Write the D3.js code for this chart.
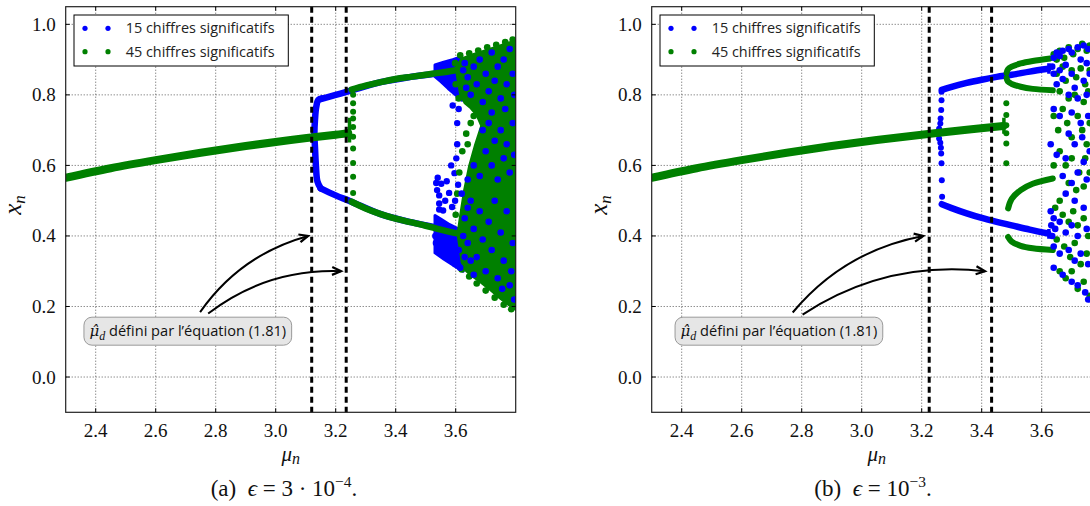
<!DOCTYPE html>
<html><head><meta charset="utf-8">
<script src="https://cdn.jsdelivr.net/npm/d3@7"></script>
<style>body{margin:0;background:#fff;overflow:hidden}</style>
</head><body><svg id="c" width="1090" height="506"></svg>
<script>
// ---------- shared data ----------
const xDomain = [2.3, 3.8];
const yDomain = [-0.1, 1.05];
const xTicks = [2.4, 2.6, 2.8, 3.0, 3.2, 3.4, 3.6];
const yTicks = [0.0, 0.2, 0.4, 0.6, 0.8, 1.0];
const seriesNames = ["15 chiffres significatifs", "45 chiffres significatifs"];
const annotationText = "défini par l’équation (1.81)";
const captionLetters = ["(a)", "(b)"];
const captionMantissa = ["3 · 10", "10"];
const captionExponent = ["−4", "−3"];

// ---------- panel (a) : epsilon = 3e-4 ----------
const a_dashed = [3.12, 3.235];
const a_arrows = [[2.748, 0.184, 3.108, 0.40], [2.775, 0.180, 3.218, 0.30]];
const a_annot = [2.707, 0.13];
const a_greenFixed = [[2.3,0.565],[2.45,0.592],[2.6,0.615],[2.75,0.636],[2.9,0.655],[3.05,0.672],[3.2,0.687],[3.242,0.691]];
const a_greenT = [[3.246,0.665],[3.246,0.735]];
const a_greenSparse = [[3.258,0.800],[3.258,0.776],[3.258,0.752],[3.258,0.733],[3.258,0.709],[3.258,0.681],[3.258,0.648],[3.258,0.607],[3.258,0.568],[3.258,0.522]];
const a_greenUp = [[3.253,0.815],[3.3,0.826],[3.35,0.836],[3.4,0.845],[3.45,0.851],[3.5,0.857],[3.55,0.863],[3.6,0.870],[3.62,0.873]];
const a_greenLo = [[3.253,0.497],[3.3,0.478],[3.35,0.462],[3.4,0.449],[3.45,0.439],[3.5,0.429],[3.55,0.418],[3.6,0.408],[3.62,0.405]];
const a_blueBracket = [[3.153,0.790],[3.142,0.786],[3.135,0.765],[3.131,0.730],[3.129,0.690],[3.131,0.650],[3.134,0.600],[3.139,0.555],[3.150,0.535]];
const a_blueUp = [[3.15,0.788],[3.2,0.800],[3.25,0.812],[3.35,0.836],[3.45,0.851],[3.531,0.860]];
const a_blueLo = [[3.15,0.535],[3.2,0.515],[3.25,0.498],[3.35,0.462],[3.45,0.439],[3.531,0.425]];
const a_blueWedgeUp = [[3.531,0.885],[3.56,0.893],[3.59,0.900],[3.62,0.908],[3.62,0.785],[3.60,0.800],[3.575,0.818],[3.55,0.838],[3.531,0.852]];
const a_blueWedgeLo = [[3.531,0.458],[3.55,0.448],[3.58,0.432],[3.62,0.415],[3.625,0.300],[3.59,0.318],[3.56,0.335],[3.531,0.352]];
const a_blueCluster = [[3.535,0.55],[3.538,0.53],[3.545,0.515],[3.552,0.548],[3.545,0.492],[3.565,0.50],[3.578,0.522],[3.588,0.482],[3.558,0.472],[3.598,0.50],[3.608,0.545],[3.596,0.578],[3.602,0.62],[3.605,0.66],[3.585,0.60],[3.54,0.565],[3.57,0.555],[3.532,0.40],[3.534,0.38],[3.545,0.475],[3.61,0.76],[3.605,0.72],[3.59,0.77]];
const a_greenCloud = [[3.600,0.878],[3.62,0.903],[3.64,0.910],[3.66,0.916],[3.70,0.927],[3.75,0.941],[3.80,0.955],[3.80,0.190],[3.77,0.208],[3.74,0.228],[3.71,0.250],[3.68,0.270],[3.655,0.285],[3.635,0.300],[3.62,0.325],[3.612,0.370],[3.606,0.405],[3.615,0.460],[3.628,0.530],[3.645,0.600],[3.665,0.660],[3.685,0.712],[3.670,0.742],[3.650,0.762],[3.630,0.776],[3.615,0.800],[3.605,0.850]];
const a_blueDots = [[3.63,0.89],[3.64,0.85],[3.65,0.80],[3.66,0.88],[3.67,0.83],[3.68,0.90],[3.69,0.78],[3.70,0.86],[3.71,0.81],[3.72,0.92],[3.73,0.84],[3.74,0.88],[3.75,0.79],[3.76,0.90],[3.77,0.83],[3.78,0.93],[3.79,0.86],[3.795,0.80],[3.765,0.76],[3.72,0.75],[3.625,0.87],[3.635,0.82],
  [3.69,0.70],[3.70,0.64],[3.71,0.72],[3.72,0.60],[3.73,0.67],[3.74,0.56],[3.75,0.70],[3.76,0.62],[3.77,0.66],[3.78,0.58],[3.79,0.72],[3.795,0.63],[3.66,0.60],[3.64,0.56],[3.68,0.57],
  [3.62,0.52],[3.63,0.45],[3.64,0.38],[3.65,0.50],[3.66,0.42],[3.67,0.34],[3.68,0.47],[3.69,0.39],[3.70,0.30],[3.71,0.44],[3.72,0.36],[3.73,0.50],[3.74,0.28],[3.75,0.41],[3.76,0.33],[3.77,0.47],[3.78,0.26],[3.79,0.38],[3.795,0.22],[3.785,0.30],[3.755,0.25],[3.63,0.34],[3.65,0.33],[3.61,0.36],[3.625,0.40],[3.64,0.48],[3.615,0.31],[3.66,0.29]];
const a_greenDots = [[3.615,0.912],[3.645,0.918],[3.675,0.926],[3.705,0.935],[3.735,0.942],[3.765,0.950],[3.79,0.957],
  [3.62,0.305],[3.645,0.285],[3.67,0.265],[3.70,0.245],[3.73,0.225],[3.76,0.205],[3.785,0.192],
  [3.60,0.46],[3.605,0.52],[3.612,0.58],[3.622,0.64],[3.635,0.69],[3.65,0.72],[3.66,0.74],[3.64,0.66],[3.60,0.83],[3.598,0.89],[3.61,0.79]];

// ---------- panel (b) : epsilon = 1e-3 ----------
const b_dashed = [3.225, 3.433];
const b_arrows = [[2.770, 0.183, 3.205, 0.40], [2.803, 0.177, 3.411, 0.30]];
const b_annot = [2.724, 0.13];
const b_greenFixed = [[2.3,0.565],[2.45,0.592],[2.6,0.615],[2.75,0.636],[2.9,0.655],[3.05,0.672],[3.2,0.687],[3.35,0.701],[3.472,0.712]];
const b_greenT = [[3.474,0.690],[3.474,0.735]];
const b_greenSparse = [[3.482,0.776],[3.482,0.743],[3.482,0.714],[3.482,0.691],[3.482,0.662],[3.482,0.606]];
const b_green4a = [[3.483,0.862],[3.487,0.872],[3.50,0.880],[3.53,0.889],[3.57,0.896],[3.628,0.903]];
const b_green4b = [[3.483,0.848],[3.487,0.838],[3.50,0.831],[3.53,0.823],[3.57,0.817],[3.637,0.813]];
const b_green4c = [[3.488,0.478],[3.50,0.505],[3.53,0.530],[3.57,0.548],[3.637,0.563]];
const b_green4d = [[3.488,0.397],[3.50,0.384],[3.53,0.372],[3.57,0.365],[3.637,0.360]];
const b_blueSparse = [[3.266,0.809],[3.266,0.785],[3.265,0.757],[3.263,0.733],[3.262,0.719],[3.258,0.704],[3.256,0.690],[3.258,0.676],[3.262,0.664],[3.264,0.650],[3.265,0.634],[3.266,0.606],[3.267,0.558],[3.268,0.511]];
const b_blueUp = [[3.267,0.814],[3.30,0.823],[3.35,0.834],[3.40,0.843],[3.45,0.851],[3.50,0.857],[3.56,0.866],[3.622,0.874]];
const b_blueLo = [[3.267,0.490],[3.30,0.479],[3.35,0.464],[3.40,0.451],[3.45,0.440],[3.50,0.430],[3.56,0.418],[3.622,0.407]];
const b_blueTup = [[3.624,0.860],[3.624,0.890]];
const b_blueTlo = [[3.624,0.392],[3.624,0.420]];
const b_blueDots = [[3.64,0.905],[3.65,0.92],[3.66,0.91],[3.67,0.925],[3.69,0.93],[3.70,0.92],[3.72,0.935],[3.74,0.94],[3.755,0.93],[3.66,0.87],[3.68,0.885],[3.70,0.86],[3.73,0.90],[3.75,0.89],[3.65,0.83],[3.67,0.845],[3.71,0.82],[3.74,0.84],[3.76,0.86],[3.69,0.80],[3.72,0.79],[3.75,0.80],[3.635,0.88],[3.64,0.86],
  [3.64,0.76],[3.66,0.74],[3.70,0.75],[3.73,0.72],[3.755,0.74],[3.63,0.66],[3.65,0.63],[3.68,0.62],[3.71,0.66],[3.74,0.61],[3.76,0.64],[3.67,0.57],[3.70,0.55],[3.72,0.58],[3.75,0.56],[3.69,0.69],[3.735,0.68],
  [3.63,0.47],[3.64,0.45],[3.645,0.42],[3.66,0.44],[3.68,0.41],[3.70,0.43],[3.72,0.40],[3.75,0.42],[3.64,0.37],[3.66,0.35],[3.69,0.36],[3.71,0.33],[3.73,0.35],[3.755,0.32],[3.64,0.31],[3.67,0.29],[3.70,0.27],[3.72,0.26],[3.745,0.24],[3.755,0.22],[3.68,0.52],[3.71,0.50],[3.74,0.48],[3.635,0.40],[3.632,0.43]];
const b_greenDots = [[3.64,0.915],[3.65,0.90],[3.66,0.925],[3.675,0.905],[3.69,0.935],[3.705,0.915],[3.72,0.93],[3.735,0.945],[3.75,0.925],[3.76,0.94],[3.65,0.86],[3.67,0.88],[3.68,0.84],[3.70,0.87],[3.715,0.85],[3.73,0.875],[3.745,0.83],[3.76,0.87],[3.66,0.81],[3.69,0.79],[3.71,0.80],[3.74,0.78],[3.755,0.81],
  [3.64,0.74],[3.655,0.70],[3.67,0.76],[3.685,0.72],[3.70,0.68],[3.72,0.74],[3.735,0.70],[3.75,0.66],[3.76,0.72],[3.66,0.64],[3.68,0.60],[3.70,0.62],[3.725,0.58],[3.745,0.62],[3.64,0.60],[3.69,0.55],[3.715,0.53],[3.74,0.54],[3.76,0.58],
  [3.645,0.48],[3.66,0.50],[3.67,0.46],[3.69,0.44],[3.705,0.47],[3.72,0.43],[3.74,0.45],[3.755,0.40],[3.65,0.39],[3.675,0.37],[3.695,0.34],[3.71,0.38],[3.73,0.32],[3.75,0.35],[3.66,0.30],[3.68,0.28],[3.70,0.30],[3.72,0.25],[3.74,0.27],[3.76,0.23]];

// ---------- rendering ----------
const BLUE = "#0000ff", GREEN = "#008000";
const svg = d3.select("#c");
const PW = 450, PTOP = 6.7, PBOT = 412.3;
const serif = "'Liberation Serif', 'Times New Roman', serif";
const sans = "'Open Sans', 'DejaVu Sans', sans-serif";

function fit(sel, target) {
  const w = sel.node().getComputedTextLength();
  const fs = parseFloat(sel.attr("font-size"));
  sel.attr("font-size", (fs * target / w).toFixed(2));
}

const panels = [
  {left: 65.7, cap: 284, dashed: a_dashed, arrows: a_arrows, annot: a_annot,
   blueLines: [[a_blueUp,6.5],[a_blueLo,6.5],[a_blueBracket,6.5]],
   bluePolys: [a_blueWedgeUp, a_blueWedgeLo], blueDotsPre: a_blueCluster,
   greenLines: [[a_greenFixed,8],[a_greenUp,6.5],[a_greenLo,6.5],[a_greenT,3.5]],
   greenSparse: a_greenSparse, greenPolys: [a_greenCloud],
   blueDots: a_blueDots, greenDots: a_greenDots, blueSparse: [], blueTs: []},
  {left: 651.7, cap: 873, dashed: b_dashed, arrows: b_arrows, annot: b_annot,
   blueLines: [[b_blueUp,6.5],[b_blueLo,6.5]],
   bluePolys: [], blueDotsPre: [],
   greenLines: [[b_greenFixed,8],[b_green4a,6],[b_green4b,6],[b_green4c,6],[b_green4d,6],[b_greenT,3.5]],
   greenSparse: b_greenSparse, greenPolys: [],
   blueDots: b_blueDots, greenDots: b_greenDots, blueSparse: b_blueSparse, blueTs: [b_blueTup, b_blueTlo]}
];

panels.forEach((p, i) => {
  const x = d3.scaleLinear().domain(xDomain).range([p.left, p.left + PW]);
  const y = d3.scaleLinear().domain(yDomain).range([PBOT, PTOP]);
  const g = svg.append("g");
  const clipId = "clip" + i;
  svg.append("clipPath").attr("id", clipId).append("rect")
    .attr("x", p.left).attr("y", PTOP).attr("width", PW).attr("height", PBOT - PTOP);

  // grid
  const grid = g.append("g").attr("stroke", "#333").attr("stroke-width", 0.8).attr("stroke-dasharray", "1,2");
  xTicks.forEach(t => grid.append("line").attr("x1", x(t)).attr("x2", x(t)).attr("y1", PTOP).attr("y2", PBOT));
  yTicks.forEach(t => grid.append("line").attr("y1", y(t)).attr("y2", y(t)).attr("x1", p.left).attr("x2", p.left + PW));

  const data = g.append("g").attr("clip-path", `url(#${clipId})`);
  const line = d3.line().x(d => x(d[0])).y(d => y(d[1])).curve(d3.curveCatmullRom);
  const poly = d3.line().x(d => x(d[0])).y(d => y(d[1])).curve(d3.curveLinearClosed);
  const dots = (arr, col, r) => data.append("g").selectAll("circle").data(arr).join("circle")
    .attr("cx", d => x(d[0])).attr("cy", d => y(d[1])).attr("r", r).attr("fill", col);

  // blue (15 digits) first
  p.bluePolys.forEach(pg => data.append("path").attr("d", poly(pg)).attr("fill", BLUE).attr("stroke", BLUE).attr("stroke-width", 3).attr("stroke-linejoin", "round"));
  p.blueLines.forEach(([arr, w]) => data.append("path").attr("d", line(arr)).attr("fill", "none").attr("stroke", BLUE).attr("stroke-width", w).attr("stroke-linecap", "round"));
  p.blueTs.forEach(arr => data.append("path").attr("d", line(arr)).attr("fill", "none").attr("stroke", BLUE).attr("stroke-width", 3.5));
  dots(p.blueDotsPre, BLUE, 3.2);
  dots(p.blueSparse, BLUE, 3);

  // green (45 digits)
  p.greenPolys.forEach(pg => data.append("path").attr("d", poly(pg)).attr("fill", GREEN).attr("stroke", GREEN).attr("stroke-width", 2).attr("stroke-linejoin", "round"));
  p.greenLines.forEach(([arr, w]) => data.append("path").attr("d", line(arr)).attr("fill", "none").attr("stroke", GREEN).attr("stroke-width", w).attr("stroke-linecap", arr.length > 2 ? "round" : "butt"));
  dots(p.greenSparse, GREEN, 3);
  dots(p.greenDots, GREEN, 3.3);
  dots(p.blueDots, BLUE, 3.3);

  // dashed vertical lines
  p.dashed.forEach(v => g.append("line").attr("x1", x(v)).attr("x2", x(v)).attr("y1", PTOP).attr("y2", PBOT)
    .attr("stroke", "#000").attr("stroke-width", 3).attr("stroke-dasharray", "6,4"));

  // arrows
  p.arrows.forEach(([x1d, y1d, x2d, y2d]) => {
    const x1 = x(x1d), y1 = y(y1d), x2 = x(x2d), y2 = y(y2d);
    const dx = x2 - x1, dyUp = y1 - y2, rad = -0.18;
    const cx = (x1 + x2) / 2 + rad * dyUp, cy = (y1 + y2) / 2 + rad * dx;
    g.append("path").attr("d", `M${x1},${y1} Q${cx},${cy} ${x2},${y2}`).attr("fill", "none").attr("stroke", "#000").attr("stroke-width", 2);
    const ang = Math.atan2(y2 - cy, x2 - cx);
    const L = 9, Wd = 4;
    const hx = x2 - L * Math.cos(ang), hy = y2 - L * Math.sin(ang);
    const px = -Math.sin(ang) * Wd, py = Math.cos(ang) * Wd;
    g.append("path").attr("d", `M${hx + px},${hy + py} L${x2},${y2} L${hx - px},${hy - py}`)
      .attr("fill", "none").attr("stroke", "#000").attr("stroke-width", 2.2);
  });

  // annotation box (one text element: mu-hat with combining circumflex, subscript d, sentence)
  const ag = g.append("g");
  const at = ag.append("text").attr("fill", "#111");
  at.append("tspan").text("μ\u0302").attr("font-family", "'DejaVu Serif', serif").attr("font-style", "italic").attr("font-size", 15);
  at.append("tspan").text("d").attr("font-family", serif).attr("font-style", "italic").attr("font-size", 12).attr("dy", 4);
  const rest = at.append("tspan").text(" " + annotationText).attr("font-family", sans).attr("font-size", 14).attr("dy", -4);
  fit(rest, 181);
  const bw = at.node().getComputedTextLength();
  const tx = x(p.annot[0]) - bw / 2, ty = y(p.annot[1]) + 5;
  at.attr("x", tx).attr("y", ty);
  ag.insert("rect", "text").attr("x", tx - 5.5).attr("y", ty - 19).attr("width", bw + 11).attr("height", 28)
    .attr("rx", 8).attr("fill", "#e6e6e6").attr("stroke", "#999").attr("stroke-width", 1);

  // legend
  const lg = g.append("g");
  const lx = p.left + 8.3;
  lg.append("rect").attr("x", lx).attr("y", 15).attr("width", 214.3).attr("height", 51).attr("fill", "#fff").attr("stroke", "#000").attr("stroke-width", 1);
  [BLUE, GREEN].forEach((c, k) => {
    const yy = 28.3 + k * 23.4;
    [11, 34].forEach(o => lg.append("circle").attr("cx", lx + o).attr("cy", yy).attr("r", 2.6).attr("fill", c));
    const t = lg.append("text").attr("x", lx + 51.7).attr("y", yy + 5).attr("font-family", sans).attr("font-size", 14).attr("fill", "#222").text(seriesNames[k]);
    fit(t, 149);
  });

  // frame
  g.append("rect").attr("x", p.left).attr("y", PTOP).attr("width", PW).attr("height", PBOT - PTOP)
    .attr("fill", "none").attr("stroke", "#222").attr("stroke-width", 1.2);
  const tk = g.append("g").attr("stroke", "#000").attr("stroke-width", 1);
  xTicks.forEach(t => { tk.append("line").attr("x1", x(t)).attr("x2", x(t)).attr("y1", PBOT).attr("y2", PBOT - 4);
                        tk.append("line").attr("x1", x(t)).attr("x2", x(t)).attr("y1", PTOP).attr("y2", PTOP + 4); });
  yTicks.forEach(t => { tk.append("line").attr("y1", y(t)).attr("y2", y(t)).attr("x1", p.left).attr("x2", p.left + 4);
                        tk.append("line").attr("y1", y(t)).attr("y2", y(t)).attr("x1", p.left + PW).attr("x2", p.left + PW - 4); });
  xTicks.forEach(t => g.append("text").attr("x", x(t)).attr("y", 437).attr("text-anchor", "middle")
    .attr("font-family", serif).attr("font-size", 19).attr("fill", "#111").text(d3.format(".1f")(t)));
  yTicks.forEach(t => g.append("text").attr("x", p.left - 10).attr("y", y(t) + 6.5).attr("text-anchor", "end")
    .attr("font-family", serif).attr("font-size", 19).attr("fill", "#111").text(d3.format(".1f")(t)));

  // axis labels
  const xl = g.append("text").attr("x", p.left + 225).attr("y", 461).attr("text-anchor", "middle").attr("font-family", serif).attr("font-style", "italic").attr("fill", "#111");
  xl.append("tspan").text("μ").attr("font-size", 21);
  xl.append("tspan").text("n").attr("font-size", 16).attr("dy", 3);
  const yl = g.append("text").attr("transform", `translate(${p.left - 45},${205}) rotate(-90)`).attr("text-anchor", "middle").attr("font-family", serif).attr("font-style", "italic").attr("fill", "#111");
  yl.append("tspan").text("x").attr("font-size", 25);
  yl.append("tspan").text("n").attr("font-size", 17).attr("dy", 4);

  // caption
  const cp = g.append("text").attr("x", p.cap).attr("y", 496).attr("text-anchor", "middle").attr("font-family", serif).attr("font-size", 23).attr("fill", "#111");
  cp.append("tspan").text(captionLetters[i] + "\u2002");
  cp.append("tspan").text("ϵ").attr("font-style", "italic");
  cp.append("tspan").text(" = " + captionMantissa[i]);
  cp.append("tspan").text(captionExponent[i]).attr("font-size", 15.5).attr("dy", -9);
  cp.append("tspan").text(".").attr("dy", 9);
});
</script></body></html>
